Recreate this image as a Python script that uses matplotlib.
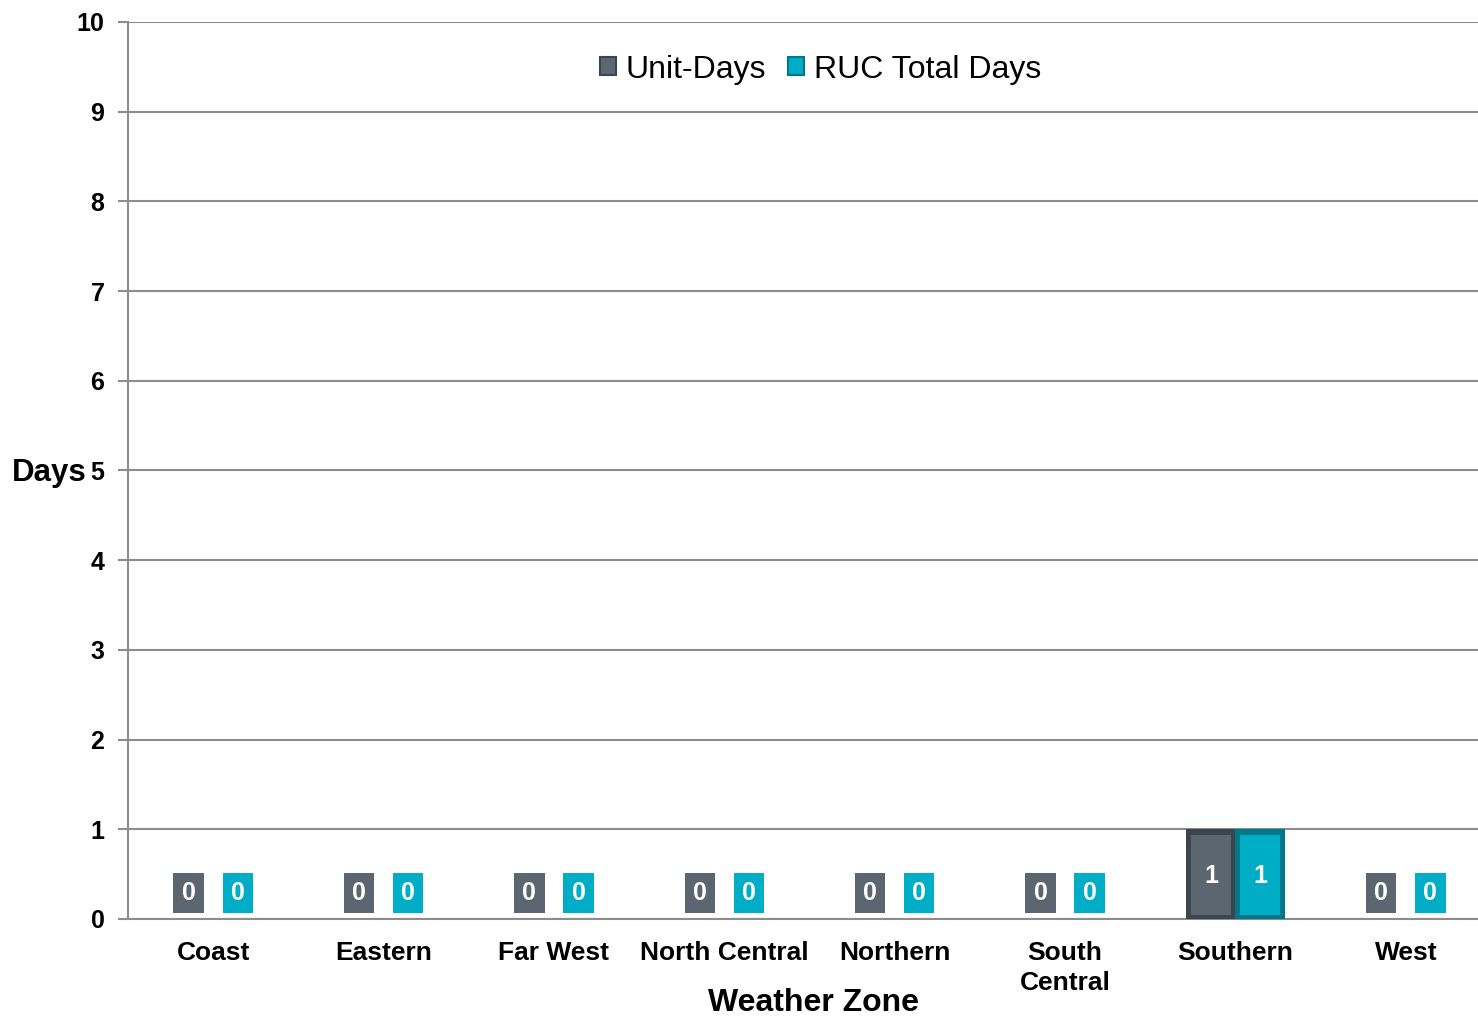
import matplotlib.pyplot as plt
from matplotlib.patches import Patch
import numpy as np

plt.rcParams['font.family'] = ['Liberation Sans', 'DejaVu Sans']

zones = ['Coast', 'Eastern', 'Far West', 'North Central', 'Northern',
         'South\nCentral', 'Southern', 'West']
unit_days = [0, 0, 0, 0, 0, 0, 1, 0]
ruc_total_days = [0, 0, 0, 0, 0, 0, 1, 0]

series = ['Unit-Days', 'RUC Total Days']
colors = ['#5b6670', '#00adc6']
edge_colors = ['#3c454c', '#00788a']

fig = plt.figure(figsize=(14.78, 10.18), dpi=100)
# plot area runs a bit past the right edge, like the original export
ax = fig.add_axes([0.0866, 0.0973, 0.9222, 0.8811])

x = np.arange(len(zones))
w = 0.288

for i, vals in enumerate([unit_days, ruc_total_days]):
    xs = x + (i - 0.5) * w
    # darker bevel edge, then the face on top
    ax.bar(xs, vals, w, color=edge_colors[i], zorder=3)
    inner = [v * 0.9 if v > 0 else 0 for v in vals]
    ax.bar(xs, inner, w * 0.8, bottom=[v * 0.04 for v in vals],
           color=colors[i], zorder=4)
    for xi, v in zip(xs, vals):
        ypos = v * 0.48 if v > 0 else 0.29
        ax.text(xi, ypos, str(v), ha='center', va='center', color='white',
                fontsize=18, fontweight='bold', zorder=5,
                bbox=dict(boxstyle='square,pad=0.33', facecolor=colors[i],
                          edgecolor='none'))

ax.set_xlim(-0.5, len(zones) - 0.5)
ax.set_ylim(0, 10)
ax.set_yticks(range(0, 11))
ax.set_xticks(x)
ax.set_xticklabels(zones, fontsize=19, fontweight='bold', linespacing=1.3)
ax.tick_params(axis='x', length=0, pad=16)
ax.tick_params(axis='y', length=7, width=1.5, color='#8c8c8c',
               labelsize=18, pad=10)
for lab in ax.get_yticklabels():
    lab.set_fontweight('bold')

ax.grid(axis='y', color='#8c8c8c', linewidth=1.5, zorder=0)
ax.set_axisbelow(True)
for s in ['top', 'right']:
    ax.spines[s].set_visible(False)
for s in ['left', 'bottom']:
    ax.spines[s].set_color('#8c8c8c')
    ax.spines[s].set_linewidth(1.5)

ax.set_xlabel('Weather Zone', fontsize=23, fontweight='bold')
ax.xaxis.label.set_va('center')
ax.xaxis.set_label_coords(0.5026, -0.0936)
ax.set_ylabel('Days', fontsize=22.5, fontweight='bold', rotation=0,
              ha='left', va='center')
ax.yaxis.set_label_coords(-0.085, 0.497)

handles = [Patch(facecolor=c, edgecolor=e, linewidth=1.5)
           for c, e in zip(colors, edge_colors)]
ax.legend(handles, series, loc='center', bbox_to_anchor=(0.508, 0.947),
          ncol=2, frameon=False, fontsize=23, handlelength=0.5,
          handleheight=0.5, handletextpad=0.3, columnspacing=0.7)

fig.savefig('out.png', dpi=100)
